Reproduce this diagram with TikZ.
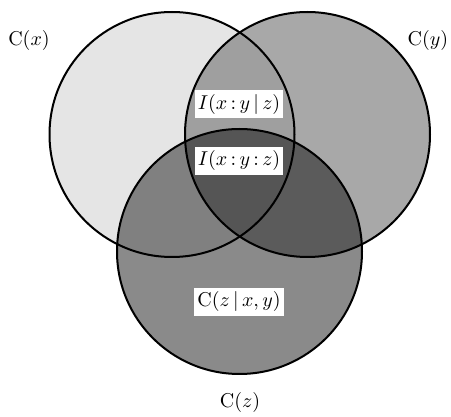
\documentclass[tikz,border=0pt]{standalone}
\usepackage{amsmath}
\begin{document}
\begin{tikzpicture}[x=0.5pt,y=-0.5pt,
  ring/.style={draw=black,line width=1pt},
  lbl/.style={fill=white,inner xsep=1.5pt,inner ysep=2pt},
  plain/.style={inner sep=1pt}]
\useasboundingbox (0,0) rectangle (451,417);
\def\cL{(172,134.5) circle[radius=122.5]}
\def\cR{(307.5,134.5) circle[radius=122.5]}
\def\cB{(239.5,251.5) circle[radius=122.5]}
\definecolor{gL}{gray}{0.90}
\definecolor{gR}{gray}{0.66}
\definecolor{gB}{gray}{0.54}
\definecolor{gLR}{gray}{0.625}
\definecolor{gLB}{gray}{0.50}
\definecolor{gRB}{gray}{0.355}
\definecolor{gLRB}{gray}{0.335}
\fill[gL] \cL;
\fill[gR] \cR;
\fill[gB] \cB;
\begin{scope}\clip \cL; \fill[gLR] \cR; \end{scope}
\begin{scope}\clip \cL; \fill[gLB] \cB; \end{scope}
\begin{scope}\clip \cR; \fill[gRB] \cB; \end{scope}
\begin{scope}\clip \cL; \clip \cR; \fill[gLRB] \cB; \end{scope}
\draw[ring] \cL;
\draw[ring] \cR;
\draw[ring] \cB;
\node[plain] (cx) at (29,41) {$\mathrm{C}(x)$};
\node[plain] (cy) at (428,41) {$\mathrm{C}(y)$};
\node[plain] (cz) at (240,403) {$\mathrm{C}(z)$};
\node[lbl] (ixyz) at (239,104.5) {$I(x\,{:}\,y\,|\,z)$};
\node[lbl] (ixyz3) at (239,161) {$I(x\,{:}\,y\,{:}\,z)$};
\node[lbl] (czxy) at (239,302) {$\mathrm{C}(z\,|\,x,y)$};
\end{tikzpicture}
\end{document}
